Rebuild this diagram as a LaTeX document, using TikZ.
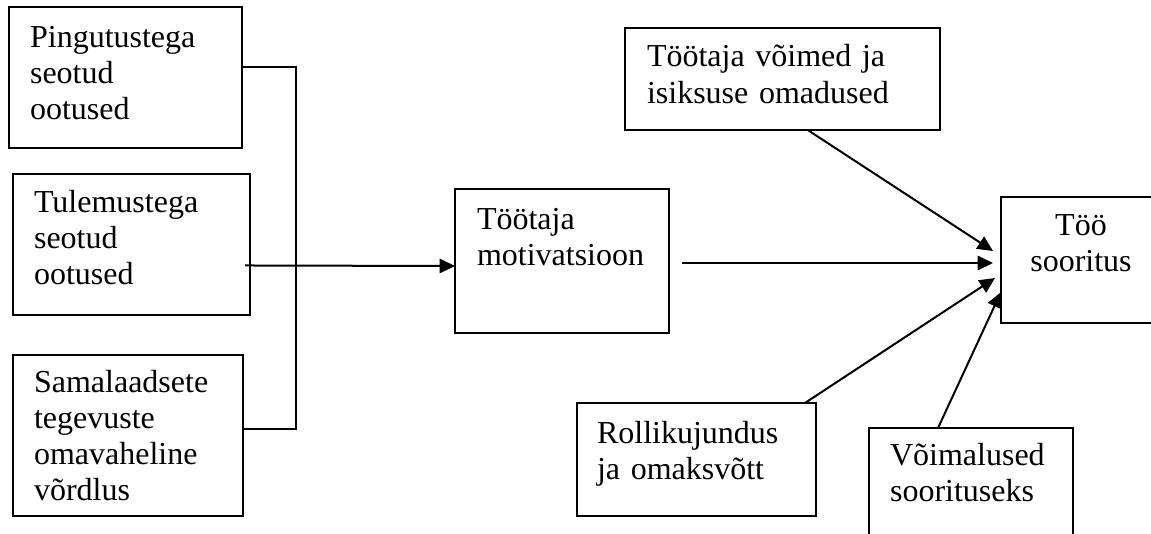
\documentclass[tikz,border=0pt]{standalone}
\usepackage{fontspec}
\setmainfont{Liberation Serif}
\usetikzlibrary{arrows.meta, calc}

\begin{document}
\begin{tikzpicture}[
    x=0.375pt, y=-0.375pt,
    kast/.style={draw, line width=0.75pt, anchor=north west, align=left,
                 inner ysep=0pt, inner xsep=7.9pt, outer sep=0pt,
                 font=\fontsize{12}{13.6}\selectfont},
    joon/.style={line width=0.75pt},
    pil/.style={joon, -{Triangle[length=5.8pt, width=5.4pt]}},
]
\useasboundingbox (0,0) rectangle (1151,533);

% ootused vasakul
\node[kast, text width=71.6pt, text height=15pt, text depth=37.9pt] (ping) at (9,7)
    {Pingutustega\\seotud\\ootused};
\node[kast, text width=73.1pt, text height=14.25pt, text depth=38.6pt] (tule) at (13,174)
    {Tulemustega\\seotud\\ootused};
\node[kast, text width=70.4pt, text height=13.9pt, text depth=46.5pt] (sama) at (13,355)
    {Samalaadsete\\tegevuste\\omavaheline\\võrdlus};

% motivatsioon
\node[kast, inner xsep=8.25pt, text width=63.75pt, text height=15pt, text depth=39pt] (motiv) at (455,189)
    {Töötaja\\motivatsioon};

% paremal
\node[kast, inner xsep=8.25pt, text width=101.6pt, text height=14.6pt, text depth=23.6pt] (voimed) at (625,28)
    {Töötaja võimed ja\\isiksuse omadused};
\node[kast, align=center, inner xsep=5pt, text width=50pt, text height=14.25pt, text depth=33pt] (too) at (1001,197)
    {Töö\\sooritus};
\node[kast, inner xsep=7.5pt, text width=74.6pt, text height=15pt, text depth=27.4pt] (rolli) at (577,403)
    {Rollikujundus\\ja omaksvõtt};
\node[kast, text width=60.7pt, text height=13.9pt, text depth=30pt] (voim) at (869,428)
    {Võimalused\\soorituseks};

% koondjoon
\coordinate (ylem) at (296,67);
\coordinate (alum) at (296,429);
\draw[joon] (ping.east |- ylem) -- (ylem) -- (alum) -- (sama.east |- alum);
\draw[pil] ($(tule.east)+(-5,21)$) -- ($(motiv.west)+(0,5)$);

% nooled töö soorituseni
\draw[pil] ($(motiv.east)+(13,2)$) -- ($(too.west)+(-8,3)$);
\draw[pil] ($(voimed.south)+(25,0)$) -- ($(too.west)+(-8,-9)$);
\draw[pil] ($(rolli.north east)+(-11,0)$) -- ($(too.west)+(-6,18)$);
\draw[pil] ($(voim.north)+(-33,0)$) -- ($(too.west)+(0,32)$);

\end{tikzpicture}
\end{document}
